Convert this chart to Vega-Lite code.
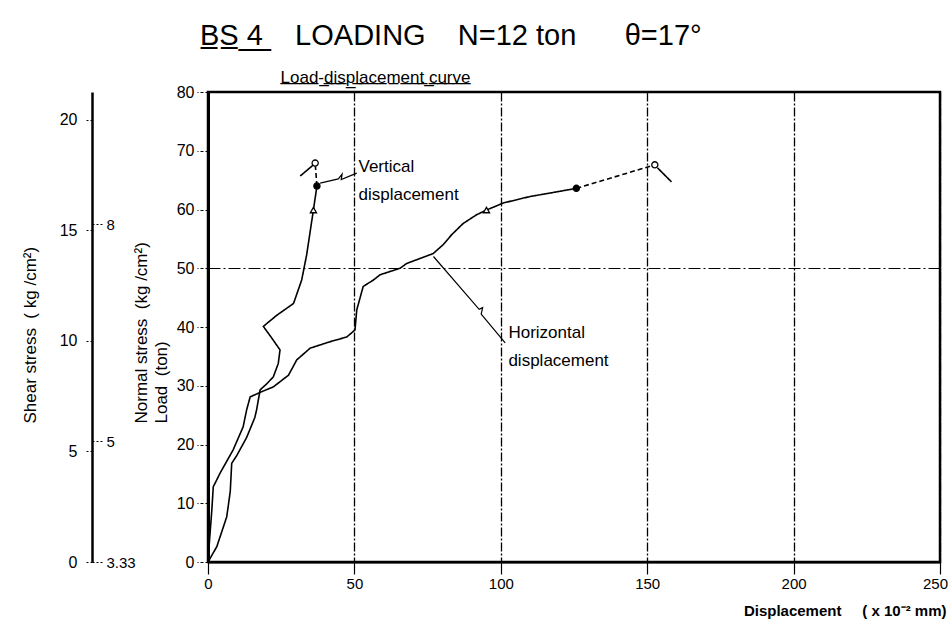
{
  "$schema": "https://vega.github.io/schema/vega-lite/v6.json",
  "width": 732,
  "height": 470,
  "autosize": {"type": "none"},
  "padding": {"left": 208, "top": 92, "right": 12, "bottom": 65},
  "background": "white",
  "config": {
    "view": {"stroke": "black", "strokeWidth": 2.5},
    "font": "Liberation Sans",
    "axis": {"labelFont": "Liberation Sans", "titleFont": "Liberation Sans", "labelColor": "black", "titleColor": "black", "domainColor": "black", "tickColor": "black", "labelFlush": false}
  },
  "title": {
    "text": "B\u0332S\u0332 \u03324\u0332\u00a0\u00a0\u00a0\u00a0LOADING\u00a0\u00a0\u00a0\u00a0N=12 ton\u00a0\u00a0\u00a0\u00a0\u00a0\u00a0θ=17°",
    "anchor": "start",
    "frame": "group",
    "dx": -8,
    "offset": 17,
    "fontSize": 29,
    "font": "Liberation Sans",
    "fontWeight": "normal",
    "color": "black"
  },
  "datasets": {
    "curves": [
      {"series": "vertical", "phase": "loading", "i": 0, "d": 0, "load": 0},
      {"series": "vertical", "phase": "loading", "i": 1, "d": 3.0, "load": 2.6},
      {"series": "vertical", "phase": "loading", "i": 2, "d": 6.4, "load": 7.7},
      {"series": "vertical", "phase": "loading", "i": 3, "d": 7.6, "load": 12.0},
      {"series": "vertical", "phase": "loading", "i": 4, "d": 8.1, "load": 16.8},
      {"series": "vertical", "phase": "loading", "i": 5, "d": 9.8, "load": 18.1},
      {"series": "vertical", "phase": "loading", "i": 6, "d": 13.2, "load": 21.2},
      {"series": "vertical", "phase": "loading", "i": 7, "d": 16.0, "load": 24.6},
      {"series": "vertical", "phase": "loading", "i": 8, "d": 16.6, "load": 25.9},
      {"series": "vertical", "phase": "loading", "i": 9, "d": 17.8, "load": 29.3},
      {"series": "vertical", "phase": "loading", "i": 10, "d": 20.0, "load": 30.3},
      {"series": "vertical", "phase": "loading", "i": 11, "d": 22.3, "load": 31.5},
      {"series": "vertical", "phase": "loading", "i": 12, "d": 24.0, "load": 33.8},
      {"series": "vertical", "phase": "loading", "i": 13, "d": 24.6, "load": 36.1},
      {"series": "vertical", "phase": "loading", "i": 14, "d": 21.8, "load": 38.1},
      {"series": "vertical", "phase": "loading", "i": 15, "d": 18.9, "load": 40.1},
      {"series": "vertical", "phase": "loading", "i": 16, "d": 23.5, "load": 42.0},
      {"series": "vertical", "phase": "loading", "i": 17, "d": 29.2, "load": 44.0},
      {"series": "vertical", "phase": "loading", "i": 18, "d": 32.0, "load": 48.0},
      {"series": "vertical", "phase": "loading", "i": 19, "d": 33.7, "load": 52.3},
      {"series": "vertical", "phase": "loading", "i": 20, "d": 36.0, "load": 59.9},
      {"series": "vertical", "phase": "loading", "i": 21, "d": 37.2, "load": 64.0},
      {"series": "vertical", "phase": "post-peak", "i": 22, "d": 37.2, "load": 64.0},
      {"series": "vertical", "phase": "post-peak", "i": 23, "d": 36.6, "load": 67.9},
      {"series": "vertical", "phase": "failure", "i": 24, "d": 36.0, "load": 67.6},
      {"series": "vertical", "phase": "failure", "i": 25, "d": 31.5, "load": 65.7},
      {"series": "horizontal", "phase": "loading", "i": 0, "d": 0, "load": 0},
      {"series": "horizontal", "phase": "loading", "i": 1, "d": 0.7, "load": 4.9},
      {"series": "horizontal", "phase": "loading", "i": 2, "d": 1.3, "load": 8.8},
      {"series": "horizontal", "phase": "loading", "i": 3, "d": 1.8, "load": 12.8},
      {"series": "horizontal", "phase": "loading", "i": 4, "d": 4.1, "load": 15.1},
      {"series": "horizontal", "phase": "loading", "i": 5, "d": 8.6, "load": 19.1},
      {"series": "horizontal", "phase": "loading", "i": 6, "d": 12.0, "load": 23.0},
      {"series": "horizontal", "phase": "loading", "i": 7, "d": 13.2, "load": 25.9},
      {"series": "horizontal", "phase": "loading", "i": 8, "d": 14.4, "load": 28.1},
      {"series": "horizontal", "phase": "loading", "i": 9, "d": 18.4, "load": 29.0},
      {"series": "horizontal", "phase": "loading", "i": 10, "d": 22.3, "load": 29.8},
      {"series": "horizontal", "phase": "loading", "i": 11, "d": 27.5, "load": 31.8},
      {"series": "horizontal", "phase": "loading", "i": 12, "d": 30.3, "load": 34.4},
      {"series": "horizontal", "phase": "loading", "i": 13, "d": 34.9, "load": 36.4},
      {"series": "horizontal", "phase": "loading", "i": 14, "d": 41.7, "load": 37.5},
      {"series": "horizontal", "phase": "loading", "i": 15, "d": 47.4, "load": 38.3},
      {"series": "horizontal", "phase": "loading", "i": 16, "d": 50.2, "load": 39.5},
      {"series": "horizontal", "phase": "loading", "i": 17, "d": 50.8, "load": 42.9},
      {"series": "horizontal", "phase": "loading", "i": 18, "d": 53.0, "load": 46.9},
      {"series": "horizontal", "phase": "loading", "i": 19, "d": 56.5, "load": 48.0},
      {"series": "horizontal", "phase": "loading", "i": 20, "d": 58.8, "load": 48.9},
      {"series": "horizontal", "phase": "loading", "i": 21, "d": 65.6, "load": 50.0},
      {"series": "horizontal", "phase": "loading", "i": 22, "d": 67.8, "load": 50.8},
      {"series": "horizontal", "phase": "loading", "i": 23, "d": 76.9, "load": 52.5},
      {"series": "horizontal", "phase": "loading", "i": 24, "d": 80.3, "load": 54.0},
      {"series": "horizontal", "phase": "loading", "i": 25, "d": 83.2, "load": 55.7},
      {"series": "horizontal", "phase": "loading", "i": 26, "d": 87.1, "load": 57.6},
      {"series": "horizontal", "phase": "loading", "i": 27, "d": 91.7, "load": 59.1},
      {"series": "horizontal", "phase": "loading", "i": 28, "d": 95.1, "load": 59.9},
      {"series": "horizontal", "phase": "loading", "i": 29, "d": 100.8, "load": 61.1},
      {"series": "horizontal", "phase": "loading", "i": 30, "d": 109.9, "load": 62.2},
      {"series": "horizontal", "phase": "loading", "i": 31, "d": 117.9, "load": 62.9},
      {"series": "horizontal", "phase": "loading", "i": 32, "d": 125.8, "load": 63.6},
      {"series": "horizontal", "phase": "post-peak", "i": 33, "d": 125.8, "load": 63.6},
      {"series": "horizontal", "phase": "post-peak", "i": 34, "d": 152.6, "load": 67.6},
      {"series": "horizontal", "phase": "failure", "i": 35, "d": 153.5, "load": 67.1},
      {"series": "horizontal", "phase": "failure", "i": 36, "d": 158.3, "load": 64.7}
    ],
    "events": [
      {"series": "vertical", "event": "limit", "d": 36.0, "load": 59.9},
      {"series": "vertical", "event": "yield", "d": 37.2, "load": 64.0},
      {"series": "vertical", "event": "failure", "d": 36.6, "load": 67.9},
      {"series": "horizontal", "event": "limit", "d": 95.1, "load": 59.9},
      {"series": "horizontal", "event": "yield", "d": 125.8, "load": 63.6},
      {"series": "horizontal", "event": "failure", "d": 152.6, "load": 67.6}
    ],
    "leaders": [
      {"label": "Vertical displacement", "i": 0, "d": 38.3, "load": 64.5},
      {"label": "Vertical displacement", "i": 1, "d": 44.5, "load": 65.2},
      {"label": "Vertical displacement", "i": 2, "d": 45.8, "load": 66.0},
      {"label": "Vertical displacement", "i": 3, "d": 45.5, "load": 65.1},
      {"label": "Vertical displacement", "i": 4, "d": 50.8, "load": 66.2},
      {"label": "Horizontal displacement", "i": 0, "d": 77.0, "load": 52.0},
      {"label": "Horizontal displacement", "i": 1, "d": 92.6, "load": 43.0},
      {"label": "Horizontal displacement", "i": 2, "d": 93.8, "load": 43.3},
      {"label": "Horizontal displacement", "i": 3, "d": 93.3, "load": 42.2},
      {"label": "Horizontal displacement", "i": 4, "d": 101.5, "load": 37.3}
    ],
    "notes": [
      {"text": "Vertical", "d": 51.4, "load": 66.4},
      {"text": "displacement", "d": 51.4, "load": 61.6},
      {"text": "Horizontal", "d": 102.6, "load": 38.1},
      {"text": "displacement", "d": 102.6, "load": 33.4}
    ]
  },
  "layer": [
    {
      "layer": [
        {
          "data": {"name": "curves"},
          "mark": {"type": "line", "color": "black", "strokeWidth": 1.6},
          "encoding": {
            "x": {
              "field": "d", "type": "quantitative",
              "scale": {"domain": [0, 250], "nice": false},
              "axis": {
                "orient": "bottom", "values": [0, 50, 100, 150, 200, 250],
                "domainWidth": 2, "tickSize": 12, "tickWidth": 1.2,
                "labelFontSize": 15, "labelPadding": 2,
                "labelOffset": {"condition": {"test": "datum.value === 250", "value": -5}, "value": 0},
                "grid": true, "gridColor": "black", "gridWidth": 1.3, "gridDash": [9, 2, 2, 2], "gridOpacity": 1,
                "title": "Displacement\u00a0\u00a0\u00a0\u00a0\u00a0( x 10⁻² mm)",
                "titleFontSize": 15, "titleFontWeight": "bold",
                "titleAlign": "right", "titleAnchor": null, "titleX": 738, "titleY": 53, "titleBaseline": "alphabetic"
              }
            },
            "y": {
              "field": "load", "type": "quantitative",
              "scale": {"domain": [0, 80], "nice": false},
              "axis": {
                "orient": "left", "values": [0, 10, 20, 30, 40, 50, 60, 70, 80],
                "domainWidth": 3, "tickSize": 11, "tickWidth": 1.2, "tickDash": [3, 2],
                "labelFontSize": 16, "labelPadding": 3,
                "grid": true, "gridColor": "black", "gridWidth": 1, "gridDash": [12, 3, 2, 3],
                "gridOpacity": {"condition": {"test": "datum.value === 50", "value": 1}, "value": 0},
                "title": ["Normal stress\u00a0\u00a0(kg /cm²)", "Load\u00a0\u00a0(ton)"],
                "titleFontSize": 17, "titleFontWeight": "normal", "titleAngle": 270,
                "titleAlign": "left", "titleBaseline": "alphabetic", "titleX": -62, "titleY": 331, "titleLineHeight": 20
              }
            },
            "order": {"field": "i", "type": "quantitative"},
            "detail": [{"field": "series"}, {"field": "phase"}],
            "strokeDash": {
              "field": "phase", "type": "nominal",
              "scale": {"domain": ["loading", "post-peak", "failure"], "range": [[1, 0], [5, 3], [1, 0]]},
              "legend": null
            }
          }
        },
        {
          "data": {"name": "leaders"},
          "mark": {"type": "line", "color": "black", "strokeWidth": 1.2},
          "encoding": {
            "x": {"field": "d", "type": "quantitative"},
            "y": {"field": "load", "type": "quantitative"},
            "order": {"field": "i", "type": "quantitative"},
            "detail": {"field": "label"}
          }
        },
        {
          "data": {"name": "events"},
          "mark": {"type": "point", "filled": true, "stroke": "black", "strokeWidth": 1.3, "size": 38, "opacity": 1},
          "encoding": {
            "x": {"field": "d", "type": "quantitative"},
            "y": {"field": "load", "type": "quantitative"},
            "shape": {"field": "event", "type": "nominal", "scale": {"domain": ["limit", "yield", "failure"], "range": ["triangle-up", "circle", "circle"]}, "legend": null},
            "fill": {"field": "event", "type": "nominal", "scale": {"domain": ["limit", "yield", "failure"], "range": ["white", "black", "white"]}, "legend": null}
          }
        },
        {
          "data": {"name": "notes"},
          "mark": {"type": "text", "align": "left", "baseline": "alphabetic", "font": "Liberation Sans", "fontSize": 17, "color": "black"},
          "encoding": {
            "x": {"field": "d", "type": "quantitative"},
            "y": {"field": "load", "type": "quantitative"},
            "text": {"field": "text"}
          }
        }
      ]
    },
    {
      "data": {"values": [{}]},
      "mark": {"type": "point", "opacity": 0},
      "encoding": {
        "x": {
          "datum": 0, "type": "quantitative",
          "scale": {"domain": [0, 250], "nice": false},
          "axis": {
            "orient": "top", "domain": false, "ticks": false, "labels": false, "grid": false,
            "title": "L\u0332o\u0332a\u0332d\u0332-\u0332d\u0332i\u0332s\u0332p\u0332l\u0332a\u0332c\u0332e\u0332m\u0332e\u0332n\u0332t\u0332 \u0332c\u0332u\u0332r\u0332v\u0332e\u0332",
            "titleFontSize": 17, "titleFontWeight": "normal",
            "titleX": 167, "titleY": -10, "titleAlign": "center", "titleBaseline": "alphabetic", "titleAnchor": null
          }
        }
      }
    },
    {
      "data": {"values": [{}]},
      "mark": {"type": "point", "opacity": 0},
      "encoding": {
        "y": {
          "datum": 0, "type": "quantitative",
          "scale": {"domain": [0, 21.251], "nice": false},
          "axis": {
            "orient": "left", "offset": 116, "values": [0, 5, 10, 15, 20],
            "domainWidth": 2.5, "tickSize": 8, "tickDash": [2, 2], "tickWidth": 1.2,
            "labelFontSize": 16, "labelPadding": 7, "grid": false,
            "title": "Shear stress\u00a0\u00a0( kg /cm²)", "titleFontSize": 17, "titleFontWeight": "normal",
            "titleAngle": 270, "titleAlign": "left", "titleBaseline": "alphabetic", "titleX": -57, "titleY": 331
          }
        }
      }
    },
    {
      "data": {"values": [{}]},
      "mark": {"type": "point", "opacity": 0},
      "encoding": {
        "y": {
          "datum": 3.3333, "type": "quantitative",
          "scale": {"domain": [3.3333, 9.8305], "nice": false, "zero": false},
          "axis": {
            "orient": "right", "offset": -848, "values": [3.3333, 5, 8], "format": ".3~r",
            "domain": false, "tickSize": 11, "tickDash": [2, 2], "tickWidth": 1.2,
            "labelFontSize": 15, "labelPadding": 3, "grid": false, "title": null
          }
        }
      }
    }
  ],
  "resolve": {"scale": {"y": "independent"}, "axis": {"x": "independent", "y": "independent"}}
}
